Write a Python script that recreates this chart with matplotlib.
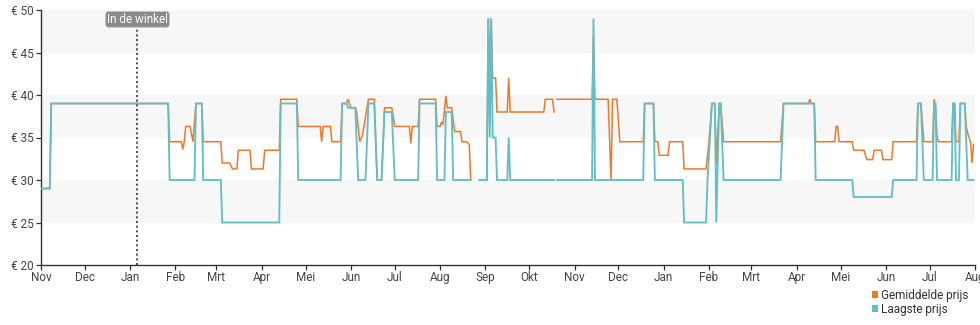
import numpy as np
import pandas as pd
import matplotlib
matplotlib.use("Agg")
import matplotlib.pyplot as plt
import matplotlib.dates as mdates
from matplotlib.patches import Patch

plt.rcParams['font.family'] = ['Roboto', 'DejaVu Sans']

nan = np.nan

# Lowest price per day (breakpoints; NaN marks missing data)
laag_dates = [
    "2022-11-01", "2022-11-07", "2022-11-08",
    "2023-01-27", "2023-01-28",
    "2023-02-14", "2023-02-15", "2023-02-19", "2023-02-20",
    "2023-03-04", "2023-03-05",
    "2023-04-13", "2023-04-14", "2023-04-25", "2023-04-26",
    "2023-05-25", "2023-05-26", "2023-05-29", "2023-05-30",
    "2023-06-04", "2023-06-06", "2023-06-11", "2023-06-13",
    "2023-06-17", "2023-06-19", "2023-06-22", "2023-06-24",
    "2023-06-29", "2023-07-01",
    "2023-07-17", "2023-07-18", "2023-07-29", "2023-07-30",
    "2023-08-04", "2023-08-05", "2023-08-09", "2023-08-10",
    "2023-08-22", "2023-08-25",
    "2023-08-28", "2023-09-02", "2023-09-03", "2023-09-04", "2023-09-05",
    "2023-09-06", "2023-09-08", "2023-09-09",
    "2023-09-16", "2023-09-17", "2023-09-18",
    "2023-10-18", "2023-10-19", "2023-10-20",
    "2023-11-13", "2023-11-14", "2023-11-15",
    "2023-12-18", "2023-12-19", "2023-12-25", "2023-12-26",
    "2024-01-14", "2024-01-15", "2024-01-30", "2024-01-31",
    "2024-02-03", "2024-02-05", "2024-02-06", "2024-02-08", "2024-02-09",
    "2024-02-11",
    "2024-03-21", "2024-03-23", "2024-04-13", "2024-04-14",
    "2024-05-09", "2024-05-10", "2024-06-05", "2024-06-06",
    "2024-06-22", "2024-06-23", "2024-06-25", "2024-06-27",
    "2024-07-03", "2024-07-04", "2024-07-05", "2024-07-06",
    "2024-07-16", "2024-07-17", "2024-07-18", "2024-07-19",
    "2024-07-21", "2024-07-22", "2024-07-25", "2024-07-27",
    "2024-07-31",
]
laag_prices = [
    29, 29, 39,
    39, 30,
    30, 39, 39, 30,
    30, 25,
    25, 39, 39, 30,
    30, 39, 39, 38.5,
    38.5, 30, 30, 39,
    39, 30, 30, 38,
    38, 30,
    30, 39, 39, 30,
    30, 38, 38, 30,
    30, nan,
    30, 30, 49, 35, 49,
    35, 35, 30,
    30, 35, 30,
    30, nan, 30,
    30, 49, 30,
    30, 39, 39, 30,
    30, 25, 25, 30,
    39, 39, 25, 39, 39,
    30,
    30, 39, 39, 30,
    30, 28, 28, 30,
    30, 39, 39, 30,
    30, 39, 39, 30,
    30, 39, 39, 30,
    30, 39, 39, 30,
    30,
]

# Average price per day (breakpoints; NaN marks missing data)
gem_dates = [
    "2022-11-01", "2022-11-07", "2022-11-08",
    "2023-01-27", "2023-01-28",
    "2023-02-05", "2023-02-06", "2023-02-07", "2023-02-08", "2023-02-11",
    "2023-02-13", "2023-02-15", "2023-02-19", "2023-02-20",
    "2023-03-04", "2023-03-05", "2023-03-10", "2023-03-12", "2023-03-15",
    "2023-03-16", "2023-03-24", "2023-03-25", "2023-04-02", "2023-04-03",
    "2023-04-13", "2023-04-14", "2023-04-25", "2023-04-26",
    "2023-05-11", "2023-05-12", "2023-05-13", "2023-05-18", "2023-05-19",
    "2023-05-25", "2023-05-26", "2023-05-29", "2023-05-30", "2023-06-01",
    "2023-06-04", "2023-06-05", "2023-06-07", "2023-06-09", "2023-06-13",
    "2023-06-17", "2023-06-19",
    "2023-06-22", "2023-06-24", "2023-06-29", "2023-07-01",
    "2023-07-11", "2023-07-12", "2023-07-13", "2023-07-17", "2023-07-18",
    "2023-07-29", "2023-07-30",
    "2023-08-01", "2023-08-02", "2023-08-03", "2023-08-05", "2023-08-06",
    "2023-08-09", "2023-08-11", "2023-08-15", "2023-08-16", "2023-08-19",
    "2023-08-21", "2023-08-22",
    "2023-08-25",
    "2023-08-28", "2023-09-02", "2023-09-03", "2023-09-04", "2023-09-05",
    "2023-09-06", "2023-09-08", "2023-09-09",
    "2023-09-16", "2023-09-17", "2023-09-18",
    "2023-10-11", "2023-10-12", "2023-10-17", "2023-10-18", "2023-10-19",
    "2023-10-20",
    "2023-11-13", "2023-11-14", "2023-11-15",
    "2023-11-24", "2023-11-26", "2023-11-27", "2023-11-30", "2023-12-02",
    "2023-12-18", "2023-12-19", "2023-12-25", "2023-12-26", "2023-12-28",
    "2023-12-29", "2024-01-04", "2024-01-05",
    "2024-01-14", "2024-01-15", "2024-01-30", "2024-02-01", "2024-02-03",
    "2024-02-05", "2024-02-06", "2024-02-08", "2024-02-09", "2024-02-11",
    "2024-03-21", "2024-03-23", "2024-04-09", "2024-04-10", "2024-04-11",
    "2024-04-13", "2024-04-14",
    "2024-04-27", "2024-04-28", "2024-04-29", "2024-04-30",
    "2024-05-09", "2024-05-10", "2024-05-17", "2024-05-19", "2024-05-23",
    "2024-05-24", "2024-05-29", "2024-05-30", "2024-06-05", "2024-06-06",
    "2024-06-22", "2024-06-23", "2024-06-25", "2024-06-27",
    "2024-07-03", "2024-07-04", "2024-07-05", "2024-07-06", "2024-07-07",
    "2024-07-16", "2024-07-17", "2024-07-18", "2024-07-19",
    "2024-07-21", "2024-07-22", "2024-07-25", "2024-07-26", "2024-07-27",
    "2024-07-29", "2024-07-30", "2024-07-31",
]
gem_prices = [
    29, 29, 39,
    39, 34.5,
    34.5, 33.6, 34.5, 36.3, 36.3,
    34.5, 39, 39, 34.5,
    34.5, 32, 32, 31.3, 31.3,
    33.5, 33.5, 31.3, 31.3, 33.5,
    33.5, 39.5, 39.5, 36.3,
    36.3, 34.5, 36.3, 36.3, 34.5,
    34.5, 39, 39, 39.5, 38.5,
    38.5, 38, 34.5, 35.3, 39.5,
    39.5, 30,
    30, 38.5, 38.5, 36.3,
    36.3, 34.3, 36.3, 36.3, 39.5,
    39.5, 36.3,
    36.3, 36.8, 36.5, 39.9, 38.5,
    38.5, 35.7, 35.7, 34.5, 34.5,
    34.2, 30,
    nan,
    30, 30, 49, 43, 49,
    42, 42, 38,
    38, 42, 38,
    38, 39.5, 39.5, 38, nan,
    39.5,
    39.5, 47, 39.5,
    39.5, 30, 39.5, 39.5, 34.5,
    34.5, 39, 39, 34.5, 34.5,
    32.9, 32.9, 34.5,
    34.5, 31.3, 31.3, 34.5, 39,
    39, 32, 39, 39, 34.5,
    34.5, 39, 39, 39.5, 39,
    39, 34.5,
    34.5, 36.3, 36.3, 34.5,
    34.5, 33.5, 33.5, 32.4, 32.4,
    33.5, 33.5, 32.4, 32.4, 34.5,
    34.5, 39, 39, 34.5,
    34.5, 39.5, 38.5, 35.1, 34.5,
    34.5, 39, 39, 34.5,
    34.5, 39, 39, 36.3, 35.5,
    34.4, 32, 34.2,
]

month_labels = ["Nov", "Dec", "Jan", "Feb", "Mrt", "Apr", "Mei", "Jun",
                "Jul", "Aug", "Sep", "Okt"]
price_ticks = [20, 25, 30, 35, 40, 45, 50]
store_date = "2023-01-06"
store_label = "In de winkel"

series_names = ["Gemiddelde prijs", "Laagste prijs"]
orange = "#ec7a2b"
teal = "#62bfc8"

fig = plt.figure(figsize=(9.8, 3.25), dpi=100)
ax = fig.add_axes([41 / 980, 60 / 325, 934 / 980, 255 / 325])

x_start = pd.Timestamp("2022-11-01")
x_end = pd.Timestamp("2024-08-01")
ax.set_xlim(x_start, x_end)
ax.set_ylim(price_ticks[0], price_ticks[-1])

# alternating horizontal bands
for lo, hi in zip(price_ticks[:-1], price_ticks[1:]):
    if (hi // 5) % 2 == 0:
        ax.axhspan(lo, hi, color="#f7f7f7", lw=0, zorder=0)

ax.plot(pd.to_datetime(gem_dates), gem_prices, color=orange, lw=1.1,
        zorder=2, solid_joinstyle="miter")
ax.plot(pd.to_datetime(laag_dates), laag_prices, color=teal, lw=1.35,
        zorder=3, solid_joinstyle="miter")

# store marker
sd = pd.Timestamp(store_date)
ax.axvline(sd, color="#333333", lw=1.2, ls=(0, (1.2, 1.6)), zorder=4)
ax.text(sd, 48.9, store_label, ha="center", va="center", fontsize=8.5,
        color="white", zorder=5,
        bbox=dict(boxstyle="round,pad=0.12,rounding_size=0.25",
                  fc="#8a8a8a", ec="#c4c4c4", lw=0.6))

# axes styling
for side in ("top", "right"):
    ax.spines[side].set_visible(False)
for side in ("left", "bottom"):
    ax.spines[side].set_color("#333333")
    ax.spines[side].set_linewidth(1.0)

ax.set_yticks(price_ticks)
ax.set_yticklabels([f"€ {v}" for v in price_ticks])
ax.xaxis.set_major_locator(mdates.MonthLocator())
ticks = ax.get_xticks()
ax.set_xticks(ticks)
ax.set_xticklabels([month_labels[(mdates.num2date(t).month - 11) % 12]
                    for t in ticks])
ax.tick_params(axis="both", colors="#333333", labelsize=8.5, length=3.5,
               width=0.9, pad=1.5)
ax.tick_params(axis="x", labelcolor="#444444", pad=0.5)
ax.tick_params(axis="y", labelcolor="#444444")

handles = [Patch(facecolor=orange, edgecolor="none"),
           Patch(facecolor=teal, edgecolor="none")]
fig.legend(handles, series_names, loc="lower right",
           bbox_to_anchor=(0.999, -0.005), frameon=False, fontsize=8.5,
           handlelength=0.55, handleheight=0.55, handletextpad=0.25,
           labelspacing=0.1, labelcolor="#333333")

fig.savefig("out.png", dpi=100)
